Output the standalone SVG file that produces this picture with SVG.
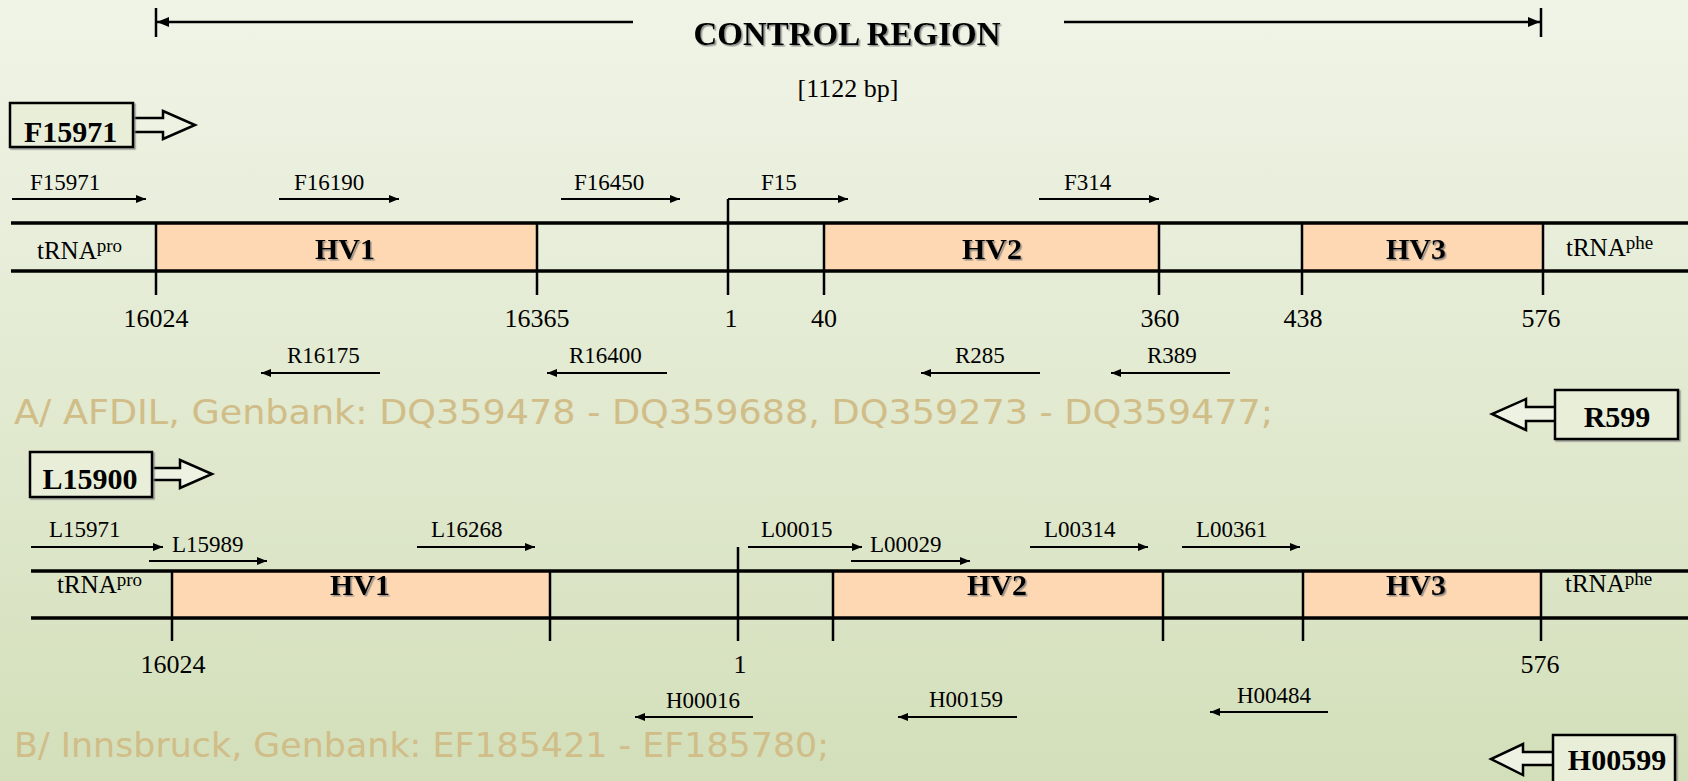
<svg xmlns="http://www.w3.org/2000/svg" width="1688" height="781" viewBox="0 0 1688 781">
<defs>
<linearGradient id="bg" x1="0" y1="0" x2="0" y2="1">
<stop offset="0" stop-color="#F0F4E7"/>
<stop offset="0.5" stop-color="#E2EAD1"/>
<stop offset="1" stop-color="#D3DFBA"/>
</linearGradient>
<filter id="sh" x="-10%" y="-20%" width="130%" height="150%">
<feDropShadow dx="1.5" dy="1.5" stdDeviation="0.6" flood-color="#7a7a7a" flood-opacity="0.8"/>
</filter>
<marker id="ah" viewBox="0 0 10 8" refX="10" refY="4" markerWidth="10" markerHeight="8" markerUnits="userSpaceOnUse" orient="auto">
<path d="M0,0 L10,4 L0,8 z" fill="#000"/>
</marker>
<marker id="ahb" viewBox="0 0 12 10" refX="12" refY="5" markerWidth="12" markerHeight="10" markerUnits="userSpaceOnUse" orient="auto">
<path d="M0,0 L12,5 L0,10 z" fill="#000"/>
</marker>
</defs>
<style>
.serif{font-family:"Liberation Serif","Times New Roman",serif;fill:#000}
.pl{font-size:23px}
.num{font-size:26px;text-anchor:middle}
.hv{font-size:30px;font-weight:bold;text-anchor:middle}
.trna{font-size:25px}
.sup{font-size:19px}
.boxt{font-size:30px;font-weight:bold}
.comic{font-family:"DejaVu Sans","Noto Sans",sans-serif;font-size:33px;fill:#D0BD88}
.band{stroke:#000;stroke-width:3.5;fill:none}
.div{stroke:#000;stroke-width:2.5;fill:none}
.hvr{fill:#FED8B2;stroke:none}
.pr{stroke:#000;stroke-width:2;fill:none;marker-end:url(#ah)}
.box{fill:#E9EED8;stroke:#000;stroke-width:2.5}
.harr{fill:#EEF2E2;stroke:#000;stroke-width:2.5;stroke-linejoin:miter}
.dim{stroke:#000;stroke-width:2.5;fill:none;marker-end:url(#ahb)}
</style>
<rect x="0" y="0" width="1688" height="781" fill="url(#bg)"/>

<g id="title">
<text class="serif" x="847" y="45" font-size="33" font-weight="bold" text-anchor="middle" filter="url(#sh)">CONTROL REGION</text>
<text class="serif" x="848" y="97" font-size="26" text-anchor="middle">[1122 bp]</text>
<line x1="156" y1="8" x2="156" y2="37" stroke="#000" stroke-width="2.5"/>
<line x1="1541" y1="8" x2="1541" y2="37" stroke="#000" stroke-width="2.5"/>
</g>

<g id="F15971-box">
<path class="harr" d="M133,118 H163 V111 L195,125 L163,139 V132 H133"/>
<rect class="box" x="10" y="103" width="123" height="44" filter="url(#sh)"/>
<text class="serif boxt" x="24" y="142">F15971</text>
</g>

<g id="R599-box">
<path class="harr" d="M1555,407 H1526 V399 L1492,414 L1526,430 V421 H1555"/>
<rect class="box" x="1555" y="390" width="123" height="49" filter="url(#sh)"/>
<text class="serif boxt" x="1617" y="427" text-anchor="middle">R599</text>
</g>

<g id="L15900-box">
<path class="harr" d="M152,468 H180 V460 L212,474 L180,488 V480 H152"/>
<rect class="box" x="30" y="452" width="122" height="45" filter="url(#sh)"/>
<text class="serif boxt" x="90" y="489" text-anchor="middle">L15900</text>
</g>

<g id="H00599-box">
<path class="harr" d="M1553,752 H1523 V744 L1491,759 L1523,775 V765 H1553"/>
<rect class="box" x="1553" y="735" width="122" height="60" filter="url(#sh)"/>
<text class="serif boxt" x="1617" y="770" text-anchor="middle">H00599</text>
</g>

<g id="mapA">
<rect class="hvr" x="156" y="223" width="381" height="48"/>
<rect class="hvr" x="824" y="223" width="335" height="48"/>
<rect class="hvr" x="1302" y="223" width="241" height="48"/>
<line class="band" x1="11" y1="223" x2="1688" y2="223"/>
<line class="band" x1="11" y1="271" x2="1688" y2="271"/>
<path class="div" d="M156,223 V295 M537,223 V295 M728,199 V295 M824,223 V295 M1159,223 V295 M1302,223 V295 M1543,223 V295"/>
<text class="serif trna" x="37" y="259">tRNA<tspan class="sup" dy="-7">pro</tspan></text>
<text class="serif hv" x="345" y="259" filter="url(#sh)">HV1</text>
<text class="serif hv" x="992" y="259" filter="url(#sh)">HV2</text>
<text class="serif hv" x="1416" y="259" filter="url(#sh)">HV3</text>
<text class="serif trna" x="1566" y="256">tRNA<tspan class="sup" dy="-7">phe</tspan></text>
<text class="serif num" x="156" y="327">16024</text>
<text class="serif num" x="537" y="327">16365</text>
<text class="serif num" x="731" y="327">1</text>
<text class="serif num" x="824" y="327">40</text>
<text class="serif num" x="1160" y="327">360</text>
<text class="serif num" x="1303" y="327">438</text>
<text class="serif num" x="1541" y="327">576</text>
</g>

<g id="primersA">
<text class="serif pl" x="30" y="190">F15971</text>
<text class="serif pl" x="294" y="190">F16190</text>
<text class="serif pl" x="574" y="190">F16450</text>
<text class="serif pl" x="761" y="190">F15</text>
<text class="serif pl" x="1064" y="190">F314</text>
<text class="serif pl" x="287" y="363">R16175</text>
<text class="serif pl" x="569" y="363">R16400</text>
<text class="serif pl" x="955" y="363">R285</text>
<text class="serif pl" x="1147" y="363">R389</text>
</g>

<g id="sourceA">
<text class="comic" x="14" y="424" textLength="1259" lengthAdjust="spacingAndGlyphs">A/ AFDIL, Genbank: DQ359478 - DQ359688, DQ359273 - DQ359477;</text>
</g>

<g id="mapB">
<rect class="hvr" x="172" y="571" width="378" height="47"/>
<rect class="hvr" x="833" y="571" width="330" height="47"/>
<rect class="hvr" x="1303" y="571" width="238" height="47"/>
<line class="band" x1="31" y1="571" x2="1688" y2="571"/>
<line class="band" x1="31" y1="618" x2="1688" y2="618"/>
<path class="div" d="M172,571 V641 M550,571 V641 M738,547 V641 M833,571 V641 M1163,571 V641 M1303,571 V641 M1541,571 V641"/>
<text class="serif trna" x="57" y="593">tRNA<tspan class="sup" dy="-7">pro</tspan></text>
<text class="serif hv" x="360" y="595" filter="url(#sh)">HV1</text>
<text class="serif hv" x="997" y="595" filter="url(#sh)">HV2</text>
<text class="serif hv" x="1416" y="595" filter="url(#sh)">HV3</text>
<text class="serif trna" x="1565" y="592">tRNA<tspan class="sup" dy="-7">phe</tspan></text>
<text class="serif num" x="173" y="673">16024</text>
<text class="serif num" x="740" y="673">1</text>
<text class="serif num" x="1540" y="673">576</text>
</g>

<g id="primersB">
<text class="serif pl" x="49" y="537">L15971</text>
<text class="serif pl" x="172" y="552">L15989</text>
<text class="serif pl" x="431" y="537">L16268</text>
<text class="serif pl" x="761" y="537">L00015</text>
<text class="serif pl" x="870" y="552">L00029</text>
<text class="serif pl" x="1044" y="537">L00314</text>
<text class="serif pl" x="1196" y="537">L00361</text>
<text class="serif pl" x="666" y="708">H00016</text>
<text class="serif pl" x="929" y="707">H00159</text>
<text class="serif pl" x="1237" y="703">H00484</text>
</g>

<g id="sourceB">
<text class="comic" x="14" y="757" textLength="815" lengthAdjust="spacingAndGlyphs">B/ Innsbruck, Genbank: EF185421 - EF185780;</text>
</g>

<g id="connectors">
<line class="dim" x1="633" y1="22" x2="157" y2="22"/>
<line class="dim" x1="1064" y1="22" x2="1540" y2="22"/>
<line class="pr" x1="12" y1="199" x2="146" y2="199"/>
<line class="pr" x1="279" y1="199" x2="399" y2="199"/>
<line class="pr" x1="561" y1="199" x2="680" y2="199"/>
<line class="pr" x1="728" y1="199" x2="848" y2="199"/>
<line class="pr" x1="1039" y1="199" x2="1159" y2="199"/>
<line class="pr" x1="380" y1="373" x2="261" y2="373"/>
<line class="pr" x1="667" y1="373" x2="547" y2="373"/>
<line class="pr" x1="1040" y1="373" x2="921" y2="373"/>
<line class="pr" x1="1230" y1="373" x2="1111" y2="373"/>
<line class="pr" x1="31" y1="547" x2="163" y2="547"/>
<line class="pr" x1="149" y1="561" x2="267" y2="561"/>
<line class="pr" x1="417" y1="547" x2="535" y2="547"/>
<line class="pr" x1="748" y1="547" x2="862" y2="547"/>
<line class="pr" x1="851" y1="561" x2="970" y2="561"/>
<line class="pr" x1="1030" y1="547" x2="1148" y2="547"/>
<line class="pr" x1="1182" y1="547" x2="1300" y2="547"/>
<line class="pr" x1="753" y1="717" x2="635" y2="717"/>
<line class="pr" x1="1017" y1="717" x2="898" y2="717"/>
<line class="pr" x1="1328" y1="712" x2="1210" y2="712"/>
</g>
</svg>
